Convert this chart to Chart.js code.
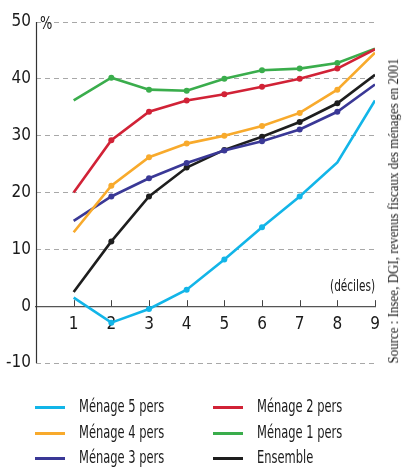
<!DOCTYPE html>
<html>
<head>
<meta charset="utf-8">
<script src="https://cdn.jsdelivr.net/npm/chart.js@4.4.0/dist/chart.umd.min.js"></script>
<style>
    html, body { margin: 0; padding: 0; background: #fff; }
    #wrap { position: relative; width: 411px; height: 469px; overflow: hidden; }
    #chart { position: absolute; left: 0; top: 0; }
    .legend-item { position: absolute; font-family: 'DejaVu Sans Condensed', 'DejaVu Sans', sans-serif; font-size: 17px; color: #1a1a1a; line-height: 17px; white-space: nowrap; }
    .legend-item span.swatch { position: absolute; height: 3px; width: 30px; top: 7px; left: 0; }
    .legend-item span.txt { position: absolute; left: 44px; top: -1px; transform: scaleX(0.75); transform-origin: left center; }
    #source { position: absolute; left: 394px; top: 211px; transform: translate(-50%, -50%) rotate(-90deg) scaleY(1.12);
        white-space: nowrap; font-family: 'Liberation Serif', 'DejaVu Serif', serif; font-size: 13px; color: #1a1a1a; }
</style>
</head>
<body>
<div id="wrap">
    <canvas id="chart" width="411" height="469"></canvas>
    <div id="legend"></div>
    <div id="source">Source : Insee, DGI, revenus fiscaux des ménages en 2001</div>
</div>
<script>
// déciles 1..9
var deciles = [1, 2, 3, 4, 5, 6, 7, 8, 9];

var menage5 = [1.5, -2.9, -0.5, 2.9, 8.2, 13.9, 19.3, 25.3, 36.2];
var menage4 = [13.0, 21.2, 26.2, 28.6, 30.0, 31.7, 34.0, 38.1, 44.6];
var menage3 = [15.0, 19.3, 22.5, 25.2, 27.4, 29.0, 31.1, 34.2, 39.0];
var menage2 = [20.0, 29.2, 34.2, 36.2, 37.3, 38.6, 40.0, 41.8, 45.2];
var menage1 = [36.2, 40.2, 38.1, 37.9, 40.0, 41.5, 41.8, 42.8, 45.3];
var ensemble = [2.5, 11.4, 19.3, 24.4, 27.5, 29.8, 32.4, 35.7, 40.7];

var yTicks = [-10, 0, 10, 20, 30, 40, 50];

var FONT = "'DejaVu Sans Condensed', 'DejaVu Sans', sans-serif";

function toPoints(values) {
    return values.map(function (v, i) { return { x: deciles[i], y: v }; });
}

function dots(n, hidden) {
    var r = [];
    for (var i = 0; i < n; i++) {
        r.push(i === 0 || i === n - 1 || (hidden && hidden.indexOf(i) >= 0) ? 0 : 3);
    }
    return r;
}

function makeLine(label, values, color, hidden) {
    return {
        label: label,
        data: toPoints(values),
        borderColor: color,
        backgroundColor: color,
        borderWidth: 2.6,
        pointRadius: dots(values.length, hidden),
        pointBorderWidth: 0,
        pointHoverRadius: 0,
        tension: 0
    };
}

var datasets = [
    makeLine('Ménage 5 pers', menage5, '#12b5e8', [7]),
    makeLine('Ménage 4 pers', menage4, '#f8aa2c'),
    makeLine('Ménage 3 pers', menage3, '#3a3896'),
    makeLine('Ménage 2 pers', menage2, '#d12236'),
    makeLine('Ménage 1 pers', menage1, '#3aad4c'),
    makeLine('Ensemble', ensemble, '#1e1e1e')
];

var extras = {
    id: 'extras',
    beforeDatasetsDraw: function (chart) {
        var ctx = chart.ctx;
        var xs = chart.scales.x, ys = chart.scales.y;
        var y0 = ys.getPixelForValue(0);
        var left = Math.round(chart.chartArea.left) + 0.5;
        ctx.save();
        // solid y axis line
        ctx.strokeStyle = '#333';
        ctx.lineWidth = 1.2;
        ctx.beginPath();
        ctx.moveTo(left, ys.getPixelForValue(50));
        ctx.lineTo(left, ys.getPixelForValue(-10));
        ctx.stroke();
        // upward tick marks on the x axis
        ctx.strokeStyle = '#444';
        ctx.lineWidth = 1;
        deciles.forEach(function (d) {
            var px = Math.round(xs.getPixelForValue(d)) + 0.5;
            ctx.beginPath();
            ctx.moveTo(px, y0);
            ctx.lineTo(px, y0 - 6);
            ctx.stroke();
        });
        ctx.restore();
    },
    afterDraw: function (chart) {
        var ctx = chart.ctx;
        var ys = chart.scales.y;
        var y0 = ys.getPixelForValue(0);
        ctx.save();
        ctx.fillStyle = '#1a1a1a';
        ctx.textBaseline = 'middle';
        // "%" next to the top of the y axis
        ctx.save();
        ctx.translate(chart.chartArea.left + 4, ys.getPixelForValue(50) + 3);
        ctx.scale(0.85, 1);
        ctx.font = '17px ' + FONT;
        ctx.textAlign = 'left';
        ctx.fillText('%', 0, 0);
        ctx.restore();
        // "(déciles)"
        ctx.save();
        ctx.translate(chart.chartArea.right, y0 - 19);
        ctx.scale(0.78, 1);
        ctx.font = '15px ' + FONT;
        ctx.textAlign = 'right';
        ctx.fillText('(déciles)', 0, 0);
        ctx.restore();
        ctx.restore();
    }
};

var chart = new Chart(document.getElementById('chart'), {
    type: 'line',
    data: { datasets: datasets },
    plugins: [extras],
    options: {
        responsive: false,
        animation: false,
        events: [],
        layout: { padding: { left: 0, top: 22, right: 36, bottom: 106 } },
        plugins: { legend: { display: false }, tooltip: { enabled: false } },
        scales: {
            x: {
                type: 'linear',
                position: { y: 0 },
                min: 0,
                max: 9,
                ticks: {
                    stepSize: 1,
                    color: '#1a1a1a',
                    font: { family: FONT, size: 17 },
                    padding: 8,
                    callback: function (v) { return v === 0 ? '' : v; }
                },
                grid: { display: false, drawTicks: false },
                border: { display: true, color: '#555', width: 1.2 }
            },
            y: {
                min: -10,
                max: 50,
                afterFit: function (scale) { scale.width = 36; },
                afterBuildTicks: function (scale) {
                    scale.ticks = yTicks.map(function (v) { return { value: v }; });
                },
                ticks: {
                    color: '#1a1a1a',
                    font: { family: FONT, size: 17 },
                    padding: 5
                },
                grid: {
                    drawTicks: false,
                    color: function (c) { return c.tick && c.tick.value === 0 ? 'rgba(0,0,0,0)' : '#a8a8a8'; },
                    lineWidth: 1
                },
                // in v4 border.dash dashes the grid lines; the axis line itself is drawn by the plugin
                border: { display: false, dash: [5, 4] }
            }
        }
    }
});

// html legend from the datasets, two columns of three
var legendBox = document.getElementById('legend');
chart.data.datasets.forEach(function (ds, n) {
    var col = Math.floor(n / 3), row = n % 3;
    var item = document.createElement('div');
    item.className = 'legend-item';
    item.style.left = (col === 0 ? 35 : 213) + 'px';
    item.style.top = (399 + row * 25.5) + 'px';
    item.innerHTML = '<span class="swatch" style="background:' + ds.borderColor + '"></span><span class="txt">' + ds.label + '</span>';
    legendBox.appendChild(item);
});
</script>
</body>
</html>
